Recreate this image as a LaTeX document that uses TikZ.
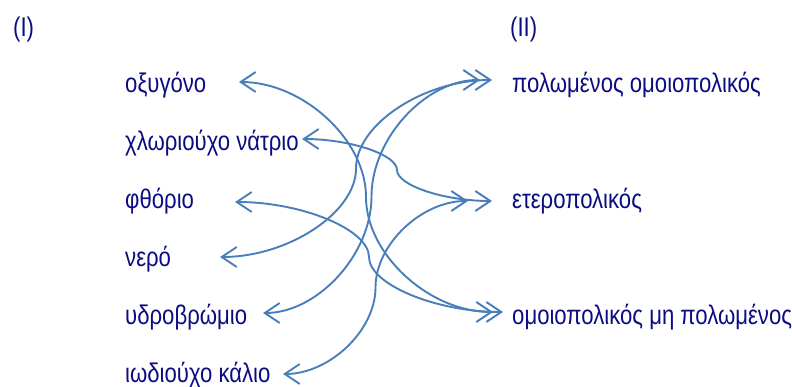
\documentclass[tikz,border=0pt]{standalone}
\usepackage{fontspec}
\setmainfont{Liberation Sans}[FakeStretch=0.82]
\usetikzlibrary{arrows.meta,calc}
\definecolor{navytext}{RGB}{12,12,130}
\definecolor{linkblue}{RGB}{74,126,187}
% curved connector: horizontal at both ends, vertical half way
\newcommand\bondlink[2]{%
  \draw[link] let \p1=(#1), \p2=(#2), \n1={(\x1+\x2)/2} in
    (\p1) .. controls ({(\x1+\n1)/2},\y1) and (\n1,{\y1+(\y2-\y1)/4}) .. (\n1,{(\y1+\y2)/2})
    .. controls (\n1,{\y1+3*(\y2-\y1)/4}) and ({(\n1+\x2)/2},\y2) .. (\p2);}
\begin{document}
\begin{tikzpicture}[x=1pt,y=-1pt,
  lbl/.style={inner sep=0pt,anchor=base west,text=navytext,font=\fontsize{27}{30}\selectfont},
  link/.style={draw=linkblue,line width=1.9pt,
    {Straight Barb[length=15pt,width=20pt]}-{Straight Barb[length=15pt,width=20pt]}}]
	\useasboundingbox (0,0) rectangle (792,387);
	\node[lbl] (colI) at (13,37) {(I)};
	\node[lbl] (colII) at (510,37) {(II)};
	% left column
	\node[lbl] (oxy) at (125,93) {οξυγόνο};
	\node[lbl] (nacl) at (125,151) {χλωριούχο νάτριο};
	\node[lbl] (fl) at (125,209) {φθόριο};
	\node[lbl] (water) at (125,266) {νερό};
	\node[lbl] (hbr) at (125,324) {υδροβρώμιο};
	\node[lbl] (ki) at (125,382) {ιωδιούχο κάλιο};
	% right column
	\node[lbl] (polar) at (512,93) {πολωμένος ομοιοπολικός};
	\node[lbl] (ionic) at (512,209) {ετεροπολικός};
	\node[lbl] (nonpolar) at (512,324) {ομοιοπολικός μη πολωμένος};
	% arrow tips
	\coordinate (t-oxy) at (239,82);
	\coordinate (t-nacl) at (302,139);
	\coordinate (t-fl) at (235,202);
	\coordinate (t-water) at (220,257);
	\coordinate (t-hbr) at (263,313);
	\coordinate (t-ki) at (283,374);
	\coordinate (t-polar1) at (492,80);
	\coordinate (t-polar2) at (480,80);
	\coordinate (t-ionic1) at (492,201);
	\coordinate (t-ionic2) at (468,201);
	\coordinate (t-nonpolar1) at (503,312);
	\coordinate (t-nonpolar2) at (493,312);
	% links
	\bondlink{t-oxy}{t-nonpolar2}
	\bondlink{t-nacl}{t-ionic1}
	\bondlink{t-fl}{t-nonpolar1}
	\bondlink{t-water}{t-polar1}
	\bondlink{t-hbr}{t-polar2}
	\bondlink{t-ki}{t-ionic2}
\end{tikzpicture}
\end{document}
